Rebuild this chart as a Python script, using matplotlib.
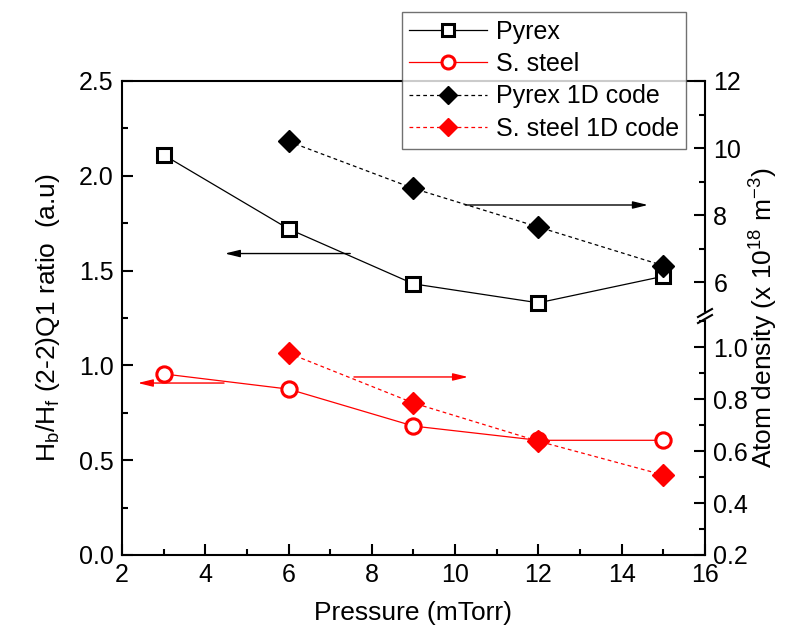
import numpy as np
import matplotlib.pyplot as plt
from matplotlib.lines import Line2D
from matplotlib.patches import Rectangle
from matplotlib.ticker import MultipleLocator

plt.rcParams['font.family'] = ['Liberation Sans', 'DejaVu Sans']
plt.rcParams['mathtext.fontset'] = 'custom'
plt.rcParams['mathtext.rm'] = 'Liberation Sans'
plt.rcParams['mathtext.it'] = 'Liberation Sans'

# Measured ratio (left axis)
p_meas = [3, 6, 9, 12, 15]
pyrex_ratio = [2.11, 1.72, 1.43, 1.33, 1.47]
steel_ratio = [0.955, 0.875, 0.68, 0.605, 0.605]

# 1D code atom density (right axis, broken)
p_code = [6, 9, 12, 15]
pyrex_dens = [10.2, 8.8, 7.65, 6.5]       # x 1e18 m^-3, upper segment
steel_dens = [0.977, 0.785, 0.638, 0.508]  # x 1e18 m^-3, lower segment

# arrows pointing to the axis each curve belongs to: (x_start, x_end, y on left axis)
arrow_black_left = (7.48, 4.47, 1.59)
arrow_black_right = (10.24, 14.63, 1.846)
arrow_red_left = (4.45, 2.38, 0.907)
arrow_red_right = (7.57, 10.31, 0.939)

W, H = 800, 637
fig = plt.figure(figsize=(W / 100, H / 100), dpi=100)

x0, x1 = 122 / W, 705 / W
ybot, ytop = 1 - 555 / H, 1 - 81 / H
ybrk = 1 - 316 / H

ax = fig.add_axes([x0, ybot, x1 - x0, ytop - ybot])
axu = fig.add_axes([x0, ybrk, x1 - x0, ytop - ybrk], sharex=ax)
axl = fig.add_axes([x0, ybot, x1 - x0, ybrk - ybot], sharex=ax)

fs = 18
lw_sp = 1.5

# main (left) axis
ax.set_xlim(2, 16)
ax.set_ylim(0, 2.5)
ax.xaxis.set_major_locator(MultipleLocator(2))
ax.xaxis.set_minor_locator(MultipleLocator(1))
ax.yaxis.set_major_locator(MultipleLocator(0.5))
ax.yaxis.set_minor_locator(MultipleLocator(0.25))
ax.yaxis.set_major_formatter(plt.FormatStrFormatter('%.1f'))
ax.tick_params(which='both', direction='in', width=1.5, labelsize=fs, top=False, right=False)
ax.tick_params(which='major', length=8, pad=6)
ax.tick_params(which='minor', length=4)
for s in ['left', 'bottom', 'top']:
    ax.spines[s].set_linewidth(lw_sp)
ax.spines['right'].set_visible(False)
ax.set_xlabel('Pressure (mTorr)', fontsize=fs + 1, labelpad=10)
ax.set_ylabel(r'H$_\mathregular{b}$/H$_\mathregular{f}$ (2-2)Q1 ratio  (a.u)', fontsize=fs + 1, labelpad=12)

# right broken axes
for a in (axu, axl):
    a.patch.set_visible(False)
    for s in ['left', 'bottom', 'top']:
        a.spines[s].set_visible(False)
    a.spines['right'].set_linewidth(lw_sp)
    a.yaxis.tick_right()
    a.tick_params(axis='x', which='both', bottom=False, labelbottom=False)
    a.tick_params(axis='y', which='both', direction='in', width=1.5, labelsize=fs)
    a.tick_params(axis='y', which='major', length=8, pad=6)
    a.tick_params(axis='y', which='minor', length=4)

axu.set_ylim(5, 12)
axu.yaxis.set_major_locator(plt.FixedLocator([6, 8, 10, 12]))
axu.yaxis.set_minor_locator(plt.FixedLocator([7, 9, 11]))
axl.set_ylim(0.2, 1.12)
axl.yaxis.set_major_locator(plt.FixedLocator([0.2, 0.4, 0.6, 0.8, 1.0]))
axl.yaxis.set_minor_locator(plt.FixedLocator([0.3, 0.5, 0.7, 0.9, 1.1]))
axl.yaxis.set_major_formatter(plt.FormatStrFormatter('%.1f'))

# data
h1, = ax.plot(p_meas, pyrex_ratio, '-', color='black', lw=0.9, marker='s', ms=10,
              mfc='white', mec='black', mew=2.2, zorder=3)
h2, = ax.plot(p_meas, steel_ratio, '-', color='red', lw=0.9, marker='o', ms=11,
              mfc='white', mec='red', mew=2.2, zorder=3)
h3, = axu.plot(p_code, pyrex_dens, '--', color='black', lw=0.9, marker='D', ms=11,
               mfc='black', mec='black', zorder=4, dashes=(3, 2.5))
h4, = axl.plot(p_code, steel_dens, '--', color='red', lw=0.9, marker='D', ms=11,
               mfc='red', mec='red', zorder=4, dashes=(3, 2.5))
for a in (axu, axl):
    a.set_xlim(2, 16)

# arrows
def arrow(spec, color):
    xs, xe, y = spec
    ax.annotate('', xy=(xe, y), xytext=(xs, y),
                arrowprops=dict(arrowstyle='-|>,head_length=0.9,head_width=0.22',
                                color=color, lw=1.0, shrinkA=0, shrinkB=0,
                                mutation_scale=10))

arrow(arrow_black_left, 'black')
arrow(arrow_black_right, 'black')
arrow(arrow_red_left, 'red')
arrow(arrow_red_right, 'red')

# break marks on right spine
def fx(px):
    return px / W

def fy(py):
    return 1 - py / H

fig.add_artist(Rectangle((fx(701), fy(320)), 8 / W, 8 / H, transform=fig.transFigure,
                         facecolor='white', edgecolor='none', zorder=10))
for dy in (-3, 3):
    fig.add_artist(Line2D([fx(698), fx(712)], [fy(320 + dy), fy(312 + dy)],
                          transform=fig.transFigure, color='black', lw=1.5, zorder=11))

fig.text(764 / W, 0.5 * (ybot + ytop), r'Atom density (x 10$^{18}$ m$^{-3}$)',
         rotation=90, ha='center', va='center', fontsize=fs + 1)

leg = fig.legend([h1, h2, h3, h4], ['Pyrex', 'S. steel', 'Pyrex 1D code', 'S. steel 1D code'],
                 loc='upper left', bbox_to_anchor=(402 / W, 1 - 12 / H), borderaxespad=0,
                 fontsize=fs, frameon=True, fancybox=False, edgecolor='0.3',
                 handlelength=3.1, handletextpad=0.35, labelspacing=0.34,
                 borderpad=0.3, markerscale=0.85)
leg.get_frame().set_linewidth(1.0)
leg.set_zorder(20)

plt.savefig('out.png', dpi=100)
